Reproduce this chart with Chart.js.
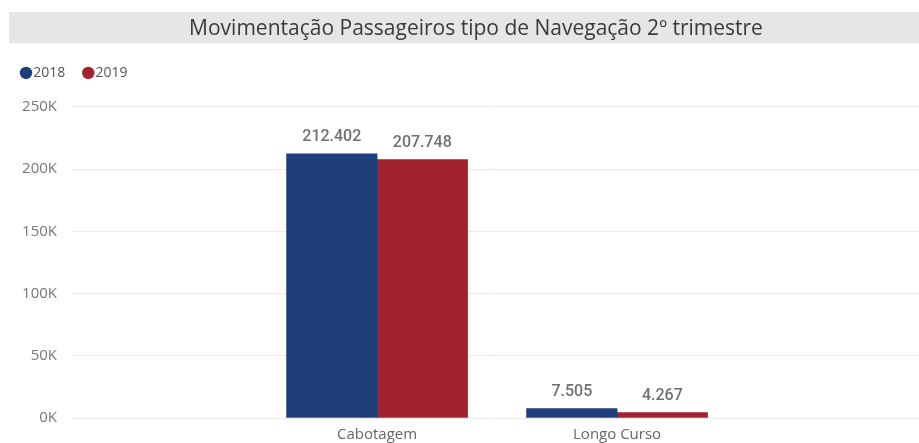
<!DOCTYPE html>
<html><head><meta charset="utf-8">
<script src="https://cdn.jsdelivr.net/npm/chart.js@4"></script>
<style>html,body{margin:0;padding:0;background:#fff;overflow:hidden}#wrap{width:919px;height:443px;position:relative}</style>
</head><body><div id="wrap"><canvas id="c"></canvas></div>
<script>
const titleText = 'Movimentação Passageiros tipo de Navegação 2º trimestre';
const categories = ['Cabotagem', 'Longo Curso'];
const seriesNames = ['2018', '2019'];
const values2018 = [212402, 7505];
const values2019 = [207748, 4267];
const yTicks = [0, 50000, 100000, 150000, 200000, 250000];
const yTickLabels = ['0K', '50K', '100K', '150K', '200K', '250K'];

const colors = ['#1F3E7C', '#A32230'];
const fmt = v => String(v).replace(/\B(?=(\d{3})+(?!\d))/g, '.');

const titleBand = {
  id: 'titleBand',
  afterLayout(chart) {
    chart.titleBlock.left += 30;
  },
  beforeDraw(chart) {
    const t = chart.titleBlock;
    const ctx = chart.ctx;
    ctx.save();
    ctx.fillStyle = '#E6E6E6';
    ctx.fillRect(9, t.top, chart.width - 9, t.bottom - t.top);
    ctx.restore();
  }
};
const legendSpace = {
  id: 'legendSpace',
  beforeInit(chart) {
    const lg = chart.legend;
    const orig = lg.fit;
    lg.fit = function () { orig.call(this); this.height += 17; };
  }
};
const dataLabels = {
  id: 'dataLabels',
  afterDatasetsDraw(chart) {
    const ctx = chart.ctx;
    ctx.save();
    ctx.font = '500 16px Roboto';
    ctx.fillStyle = '#707070';
    ctx.textAlign = 'center';
    ctx.textBaseline = 'alphabetic';
    chart.data.datasets.forEach((ds, di) => {
      chart.getDatasetMeta(di).data.forEach((el, i) => {
        ctx.fillText(fmt(ds.data[i].y), el.x, el.y - 13);
      });
    });
    ctx.restore();
  }
};

new Chart(document.getElementById('c'), {
  type: 'bar',
  data: {
    datasets: [
      { label: seriesNames[0], data: categories.map((c, i) => ({ x: i, y: values2018[i] })), backgroundColor: colors[0], borderWidth: 0 },
      { label: seriesNames[1], data: categories.map((c, i) => ({ x: i, y: values2019[i] })), backgroundColor: colors[1], borderWidth: 0 }
    ]
  },
  options: {
    responsive: true,
    maintainAspectRatio: false,
    animation: false,
    barThickness: 90.5,
    layout: { padding: { top: 12, left: 3, right: 0, bottom: 0 } },
    plugins: {
      tooltip: { enabled: false },
      title: {
        display: true, text: titleText, color: '#3A3A3A',
        font: { family: 'Open Sans', size: 21, weight: 'normal', lineHeight: 1.2 },
        padding: { top: 4, bottom: 2 }
      },
      legend: {
        position: 'top', align: 'start',
        labels: {
          usePointStyle: true, pointStyle: 'circle',
          boxWidth: 0.5, boxHeight: 8.8, padding: 22.75,
          color: '#555555',
          font: { family: 'Open Sans', size: 14 }
        }
      }
    },
    scales: {
      x: {
        type: 'linear',
        offset: false,
        min: -1.271, max: 2.258,
        grid: { display: false, drawTicks: false, offset: false },
        border: { display: false },
        afterBuildTicks: s => { s.ticks = categories.map((c, i) => ({ value: i })); },
        afterFit: s => { s.height = 25; },
        ticks: {
          padding: 8, color: '#666666', maxRotation: 0,
          font: { family: 'Open Sans', size: 15 },
          callback: v => categories[v] ?? ''
        }
      },
      y: {
        min: 0, max: 250000,
        grid: { color: '#EBEBEB', drawTicks: false, lineWidth: 1 },
        border: { display: false },
        afterBuildTicks: s => { s.ticks = yTicks.map(v => ({ value: v })); },
        afterFit: s => { s.width = 69; },
        ticks: {
          padding: 15, color: '#777777',
          font: { family: 'Open Sans', size: 15 },
          callback: v => yTickLabels[yTicks.indexOf(v)]
        }
      }
    }
  },
  plugins: [titleBand, legendSpace, dataLabels]
});
</script></body></html>
